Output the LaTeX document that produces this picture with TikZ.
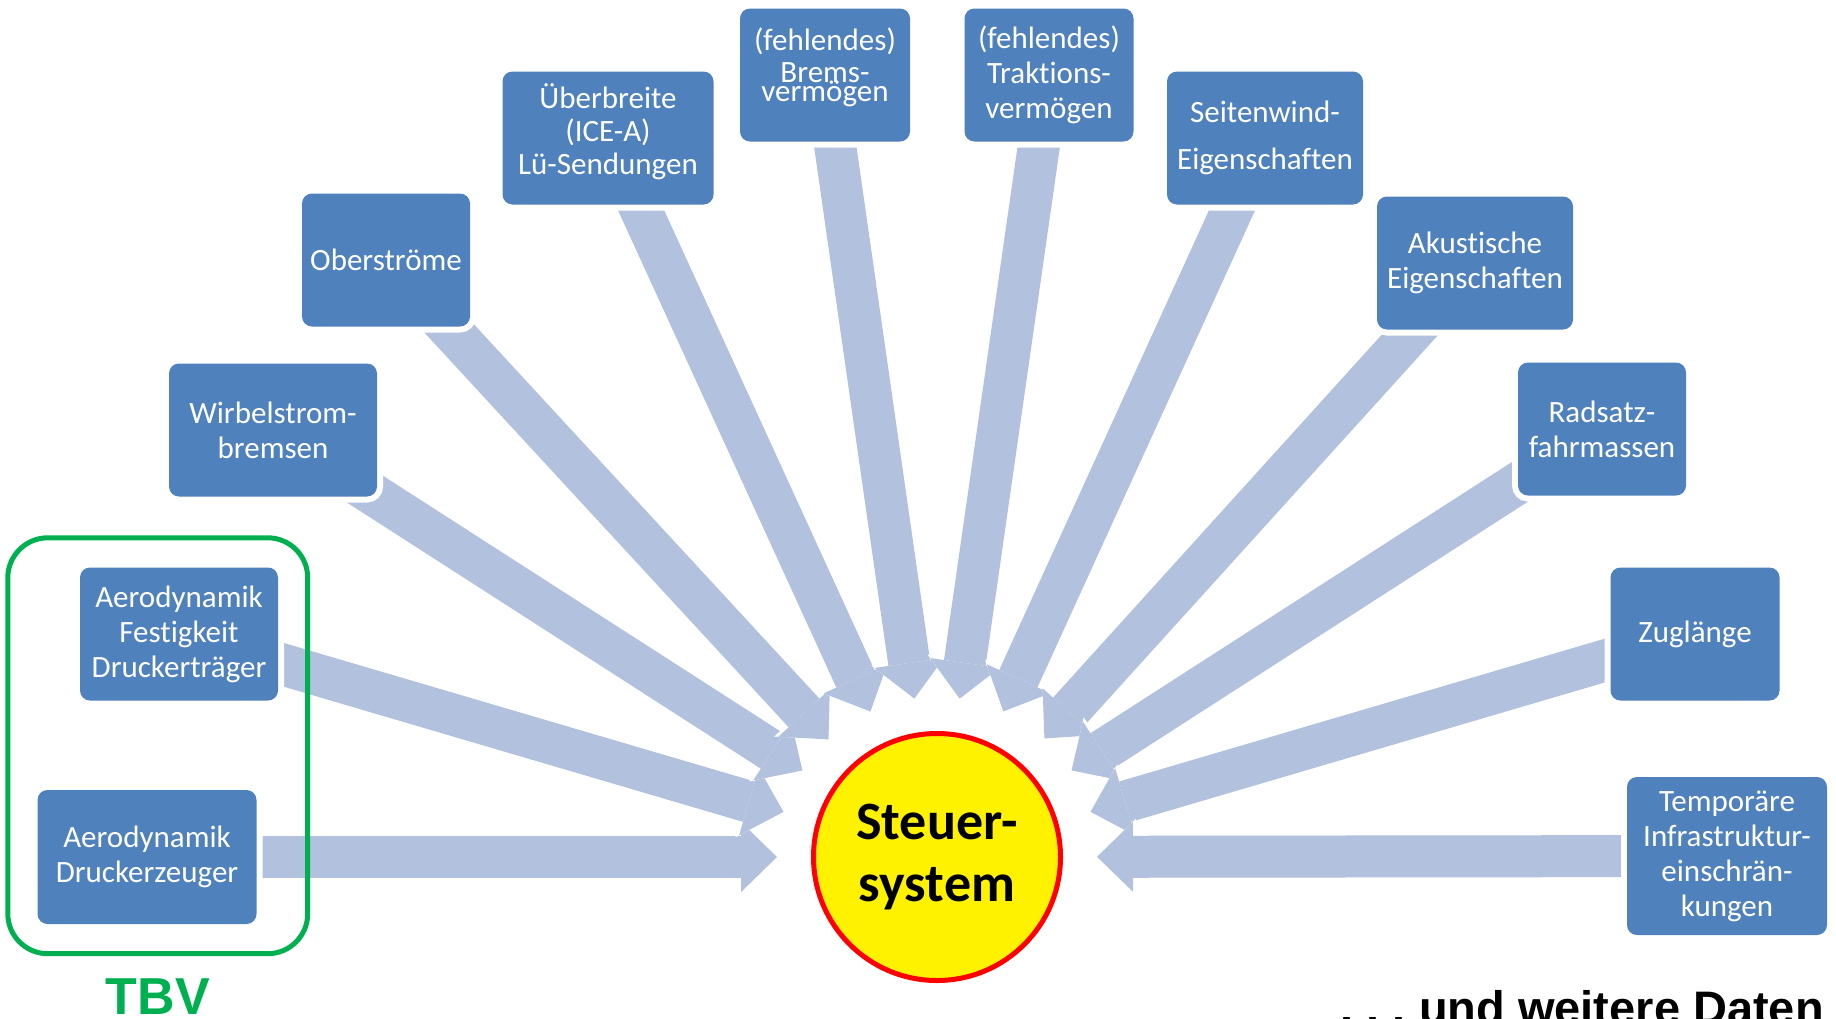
\documentclass[tikz,border=0pt]{standalone}
\usepackage{fontspec}
\setmainfont{Carlito}[Ligatures = NoCommon]
\newfontfamily\arialfont{Liberation Sans}
\usetikzlibrary{arrows.meta}
\usetikzlibrary{positioning}
\usetikzlibrary{fit}
\usetikzlibrary{backgrounds}
\definecolor{boxblue}{RGB}{79,129,189}
\definecolor{flowblue}{RGB}{178,193,221}
\definecolor{tbvgreen}{RGB}{0,176,80}
\tikzset {
  % box for one kind of input data
  data box/.style = {
    rectangle,
    rounded corners = 10pt,
    fill = boxblue,
    text = white,
    align = center,
    inner sep = 0pt,
    font = \fontsize{31}{35}\selectfont,
    preaction = {draw = white, line width = 12pt}
  },
  % the central system
  hub/.style = {
    circle,
    minimum size = 247pt,
    inner sep = 0pt,
    draw = red,
    line width = 5pt,
    fill = yellow,
    align = center,
    font = \bfseries\fontsize{54}{62}\selectfont
  },
  % wide block arrow into the hub
  feed/.style = {
    line width = 42pt,
    draw = flowblue,
    -{Triangle[width = 70pt, length = 36pt, line width = 0pt]},
    shorten > = 34pt,
    preaction = {
      draw = white,
      line width = 46pt,
      -{Triangle[width = 76pt, length = 39pt, line width = 0pt]}
    }
  },
  group frame/.style = {
    rectangle,
    draw = tbvgreen,
    line width = 5pt,
    rounded corners = 40pt,
    inner sep = 29.5pt
  }
}
\frenchspacing
\begin{document}
\begin{tikzpicture}[x = 1pt, y = -1pt]
    \useasboundingbox (0,0) rectangle (1836,1018);

    \node[hub] (sys) at (937,857) {Steuer-\\system};

    \node[data box, minimum width = 219pt, minimum height = 134pt] (aerodruck)
      at (147,857) {Aerodynamik\\Druckerzeuger};
    \node[data box, minimum width = 198pt, minimum height = 133pt] (aerofest)
      at (179,634) {Aerodynamik\\Festigkeit\\Druckerträger};
    \node[data box, minimum width = 208pt, minimum height = 133pt] (wirbel)
      at (273,430) {Wirbelstrom-\\bremsen};
    \node[data box, minimum width = 168pt, minimum height = 133pt] (ober)
      at (386,260) {Oberströme};
    \node[data box, minimum width = 211pt, minimum height = 133pt,
      text depth = 18pt] (ueber)
      at (608,138) {Überbreite\\[-2pt](ICE-A)\\[-2pt]Lü-Sendungen};
    \node[data box, minimum width = 170pt, minimum height = 133pt,
      text depth = 20pt] (brems)
      at (825,75) {(fehlendes)\\[-3pt]Brems-\\[-16pt]vermögen};
    \node[data box, minimum width = 169pt, minimum height = 133pt] (trakt)
      at (1049,75) {(fehlendes)\\Traktions-\\vermögen};
    \node[data box, minimum width = 196pt, minimum height = 133pt] (seiten)
      at (1265,138) {Seitenwind-\\[12pt]Eigenschaften};
    \node[data box, minimum width = 196pt, minimum height = 133pt] (akustik)
      at (1475,263) {Akustische\\Eigenschaften};
    \node[data box, minimum width = 168pt, minimum height = 133pt] (radsatz)
      at (1602,429) {Radsatz-\\fahrmassen};
    \node[data box, minimum width = 169pt, minimum height = 133pt] (zug)
      at (1695,634) {Zuglänge};
    \node[data box, minimum width = 200pt, minimum height = 158pt] (temp)
      at (1727,856) {Temporäre\\Infrastruktur-\\einschrän-\\kungen};

    \begin{scope}[on background layer]
      \draw[feed] (aerodruck.center) -- (sys);
      \draw[feed] (aerofest.center) -- (sys);
      \draw[feed] (wirbel.center) -- (sys);
      \draw[feed] (ober.center) -- (sys);
      \draw[feed] (ueber.center) -- (sys);
      \draw[feed] (brems.center) -- (sys);
      \draw[feed] (trakt.center) -- (sys);
      \draw[feed] (seiten.center) -- (sys);
      \draw[feed] (akustik.center) -- (sys);
      \draw[feed] (radsatz.center) -- (sys);
      \draw[feed] (zug.center) -- (sys);
      \draw[feed] (temp.center) -- (sys);
    \end{scope}

    \node[group frame, fit = (aerofest) (aerodruck)] (tbvframe) {};
    \node[below = 22pt of tbvframe, inner sep = 0pt, text = tbvgreen,
      font = \arialfont\bfseries\fontsize{52}{60}\selectfont] (tbv) {TBV};

    \node[anchor = base east, inner sep = 0pt,
      font = \arialfont\bfseries\fontsize{47}{50}\selectfont] (more)
      at (1824,1024) {. . . und weitere Daten};
  \end{tikzpicture}
\end{document}
